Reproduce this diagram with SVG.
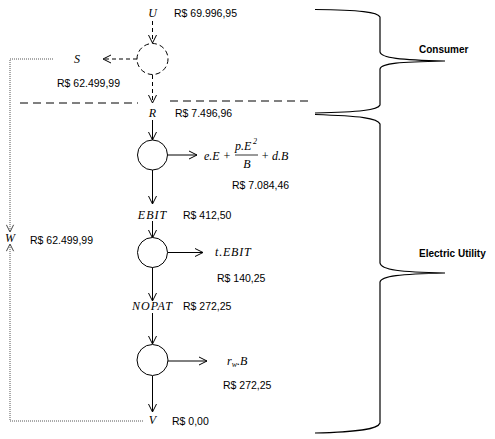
<svg xmlns="http://www.w3.org/2000/svg" width="495" height="439" viewBox="0 0 495 439">
  <defs>
    <marker id="arrow" viewBox="0 0 10 10" refX="9" refY="5" markerWidth="10" markerHeight="10" markerUnits="userSpaceOnUse" orient="auto">
      <polyline points="1,1 9,5 1,9" fill="none" stroke="#000" stroke-width="1"/>
    </marker>
    <marker id="arrowGray" viewBox="0 0 10 10" refX="9" refY="5" markerWidth="9" markerHeight="9" markerUnits="userSpaceOnUse" orient="auto">
      <polyline points="1,1 9,5 1,9" fill="none" stroke="#333" stroke-width="1"/>
    </marker>
  </defs>
  <style>
    .val { font-family: "Liberation Sans", Arial, sans-serif; font-size: 10.5px; fill: #000; }
    .var { font-family: "Liberation Serif", "Times New Roman", serif; font-style: italic; font-size: 12px; fill: #000; }
    .grp { font-family: "Liberation Sans", Arial, sans-serif; font-weight: bold; font-size: 10px; fill: #000; }
    .node { fill: #fff; stroke: #000; stroke-width: 1; }
    .dnode { fill: #fff; stroke: #000; stroke-width: 1; stroke-dasharray: 5 3; }
    .flow { stroke: #000; stroke-width: 1; fill: none; }
    .dflow { stroke: #000; stroke-width: 1; fill: none; stroke-dasharray: 4 3; }
    .sep { stroke: #000; stroke-width: 1; fill: none; stroke-dasharray: 8 5; }
    .loop { stroke: #555; stroke-width: 1; fill: none; stroke-dasharray: 1 1; }
    .brace { stroke: #000; stroke-width: 1.2; fill: none; }
  </style>

  <!-- separators between consumer and utility -->
  <line class="sep" x1="20" y1="103" x2="138" y2="103"/>
  <line class="sep" x1="170" y1="101" x2="310" y2="101"/>

  <!-- braces -->
  <g id="brace-consumer">
    <path class="brace" d="M315,9.5 C360,10 378,12 380,17 V52 C381,58 400,60 445,61 C400,62 381,63 380,69 V105 C378,110 360,112 315,113"/>
    <text class="grp" x="419" y="53">Consumer</text>
  </g>
  <g id="brace-utility">
    <path class="brace" d="M315,114.5 C360,116 378,118 380,124 V263 C381,270 400,272 445,273 C400,274 381,276 380,282 V423 C378,429 360,432 315,433"/>
    <text class="grp" x="419" y="257">Electric Utility</text>
  </g>

  <!-- connectors -->
  <g id="connectors">
    <line class="dflow" x1="152.5" y1="21" x2="152.5" y2="43" marker-end="url(#arrow)"/>
    <line class="dflow" x1="137" y1="59" x2="103" y2="59" marker-end="url(#arrow)"/>
    <line class="dflow" x1="152.5" y1="75" x2="152.5" y2="103" marker-end="url(#arrow)"/>
    <line class="flow" x1="152.5" y1="120" x2="152.5" y2="140" marker-end="url(#arrow)"/>
    <line class="flow" x1="167.5" y1="155" x2="197" y2="155" marker-end="url(#arrow)"/>
    <line class="flow" x1="152.5" y1="170" x2="152.5" y2="204" marker-end="url(#arrow)"/>
    <line class="flow" x1="152.5" y1="221" x2="152.5" y2="238" marker-end="url(#arrow)"/>
    <line class="flow" x1="167.5" y1="252.5" x2="203" y2="252.5" marker-end="url(#arrow)"/>
    <line class="flow" x1="152.5" y1="267" x2="152.5" y2="301" marker-end="url(#arrow)"/>
    <line class="flow" x1="152.5" y1="313" x2="152.5" y2="344" marker-end="url(#arrow)"/>
    <line class="flow" x1="168" y1="361" x2="207" y2="361" marker-end="url(#arrow)"/>
    <line class="flow" x1="152.5" y1="376" x2="152.5" y2="412" marker-end="url(#arrow)"/>
    <!-- feedback loop to W -->
    <polyline class="loop" points="53,59 10,59 10,232" marker-end="url(#arrowGray)"/>
    <polyline class="loop" points="143,421 10,421 10,244" marker-end="url(#arrowGray)"/>
  </g>

  <!-- nodes -->
  <g id="node-U">
    <text class="var" x="152.5" y="17" text-anchor="middle">U</text>
    <text class="val" x="174" y="17">R$ 69.996,95</text>
  </g>
  <g id="node-split">
    <circle class="dnode" cx="152.5" cy="59" r="15.5"/>
  </g>
  <g id="node-S">
    <text class="var" x="77" y="63" text-anchor="middle">S</text>
    <text class="val" x="57" y="87">R$ 62.499,99</text>
  </g>
  <g id="node-R">
    <text class="var" x="152.5" y="117" text-anchor="middle">R</text>
    <text class="val" x="175" y="117">R$ 7.496,96</text>
  </g>
  <g id="node-costs">
    <circle class="node" cx="152.5" cy="155" r="15"/>
    <text class="var" x="204" y="160">e.E +</text>
    <text class="var" x="235" y="150">p.E</text>
    <text class="var" x="253" y="144" style="font-size:8px">2</text>
    <line x1="235" y1="155" x2="258" y2="155" stroke="#000" stroke-width="0.8"/>
    <text class="var" x="247" y="168" text-anchor="middle">B</text>
    <text class="var" x="261" y="160">+ d.B</text>
    <text class="val" x="232" y="189">R$ 7.084,46</text>
  </g>
  <g id="node-EBIT">
    <text class="var" x="152.5" y="219" text-anchor="middle" letter-spacing="1">EBIT</text>
    <text class="val" x="183" y="219">R$ 412,50</text>
  </g>
  <g id="node-tax">
    <circle class="node" cx="152.5" cy="252.5" r="15"/>
    <text class="var" x="215" y="256" letter-spacing="0.8">t.EBIT</text>
    <text class="val" x="217" y="282">R$ 140,25</text>
  </g>
  <g id="node-NOPAT">
    <text class="var" x="152.5" y="310" text-anchor="middle" letter-spacing="1">NOPAT</text>
    <text class="val" x="183" y="310">R$ 272,25</text>
  </g>
  <g id="node-capital">
    <circle class="node" cx="152.5" cy="360" r="15.5"/>
    <text class="var" x="227" y="365">r<tspan dy="2" style="font-size:8px">w</tspan><tspan dy="-2">.B</tspan></text>
    <text class="val" x="223" y="389">R$ 272,25</text>
  </g>
  <g id="node-V">
    <text class="var" x="152.5" y="424" text-anchor="middle">V</text>
    <text class="val" x="172" y="425">R$ 0,00</text>
  </g>
  <g id="node-W">
    <text class="var" x="10" y="242" text-anchor="middle">W</text>
    <text class="val" x="30" y="244">R$ 62.499,99</text>
  </g>
</svg>
